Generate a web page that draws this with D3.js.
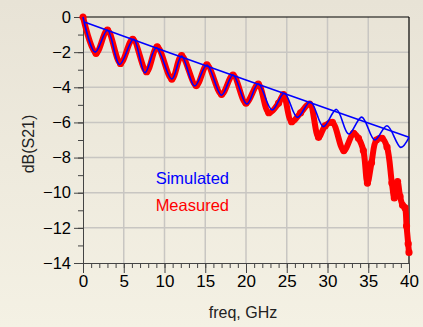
<!DOCTYPE html>
<html>
<head>
<meta charset="UTF-8">
<script src="https://d3js.org/d3.v7.min.js"></script>
<style>
  body { margin: 0; overflow: hidden; }
  svg { display: block; font-family: Arial, "Liberation Sans", sans-serif; }
</style>
</head>
<body>
<svg width="423" height="327"></svg>
<script>
    // frequency ticks (GHz) and dB ticks
    const freqTicks = [0, 5, 10, 15, 20, 25, 30, 35, 40];
    const dbTicks = [0, -2, -4, -6, -8, -10, -12, -14];

    // simulated: smooth loss line
    const simLineFreq = [0.25, 10, 20, 30, 40];
    const simLineDb = [-0.3, -1.93, -3.58, -5.22, -6.85];

    // simulated: rippled response (peaks / troughs)
    const simFreq = [0, 1.5, 3.0, 4.5, 6.2, 7.6, 9.0, 10.9, 12.1, 13.7, 15.2, 17.0, 18.4, 20.1,
        21.5, 23.2, 24.7, 26.3, 27.9, 29.5, 31.1, 32.6, 34.2, 35.8, 37.3, 39.0, 40];
    const simDb = [0, -2.0, -0.75, -2.7, -1.27, -3.17, -1.75, -3.53, -2.22, -3.93, -2.73, -4.45, -3.3, -4.95,
        -3.8, -5.29, -4.34, -5.71, -4.82, -6.24, -5.26, -6.66, -5.7, -7.0, -6.19, -7.42, -6.85];

    // measured
    const measFreq = [0, 1.6, 3.0, 4.6, 6.1, 7.8, 9.1, 10.9, 12.1, 13.9, 15.2, 17.0, 18.4, 20.0,
        21.5, 22.8, 24.0, 24.6, 25.6, 26.7, 27.8, 28.9, 29.7, 30.6, 32.0, 33.2, 33.8, 34.4, 34.9,
        35.4, 36.0, 36.7, 37.3, 37.9, 38.2, 38.6, 38.9, 39.2, 39.5, 39.7, 39.9, 40.0];
    const measDb = [0, -2.07, -0.74, -2.64, -1.27, -3.11, -1.7, -3.53, -2.2, -3.9, -2.73, -4.4, -3.3, -4.9,
        -3.82, -5.45, -4.9, -4.42, -5.96, -5.45, -4.95, -6.85, -6.2, -6.0, -7.6, -6.62, -6.9, -7.6, -9.45,
        -8.3, -7.0, -6.9, -7.4, -9.45, -10.3, -9.37, -10.2, -10.7, -10.85, -11.9, -12.9, -13.4];

    const margin = { top: 17, right: 14, bottom: 64, left: 83 };
    const W = 423, H = 327;
    const width = W - margin.left - margin.right;
    const height = H - margin.top - margin.bottom;

    const svg = d3.select("svg");

    const grad = svg.append("defs").append("linearGradient")
        .attr("id", "bg").attr("x1", 0).attr("y1", 0).attr("x2", 0).attr("y2", 1);
    grad.append("stop").attr("offset", "0%").attr("stop-color", "#e8e3d6");
    grad.append("stop").attr("offset", "100%").attr("stop-color", "#f4f1e4");

    svg.append("rect").attr("width", W).attr("height", H).attr("fill", "url(#bg)");

    const g = svg.append("g").attr("transform", `translate(${margin.left},${margin.top})`);

    const x = d3.scaleLinear().domain([0, 40]).range([0, width]);
    const y = d3.scaleLinear().domain([-14, 0]).range([height, 0]);

    // grid
    g.selectAll(".vgrid").data(freqTicks.slice(1, -1)).enter().append("line")
        .attr("x1", d => x(d)).attr("x2", d => x(d))
        .attr("y1", 0).attr("y2", height)
        .attr("stroke", "#c8c6c2").attr("stroke-width", 1.5);
    g.selectAll(".hgrid").data(dbTicks.slice(1, -1)).enter().append("line")
        .attr("x1", 0).attr("x2", width)
        .attr("y1", d => y(d)).attr("y2", d => y(d))
        .attr("stroke", "#c8c6c2").attr("stroke-width", 1.5);

    // top and right border
    g.append("line").attr("x1", 0).attr("x2", width).attr("y1", 0).attr("y2", 0)
        .attr("stroke", "#000").attr("stroke-width", 1.2);
    g.append("line").attr("x1", width).attr("x2", width).attr("y1", 0).attr("y2", height)
        .attr("stroke", "#000").attr("stroke-width", 1.2);

    // minor ticks
    g.append("g").attr("transform", `translate(0,${height})`)
        .call(d3.axisBottom(x).tickValues(d3.range(0, 41, 1)).tickSize(5).tickFormat(""))
        .call(a => a.selectAll("line, path").attr("stroke", "#444"));
    g.append("g")
        .call(d3.axisLeft(y).tickValues(d3.range(-14, 1, 1)).tickSize(5).tickFormat(""))
        .call(a => a.selectAll("line, path").attr("stroke", "#444"));

    // major ticks with labels
    const xAxis = g.append("g").attr("transform", `translate(0,${height})`)
        .call(d3.axisBottom(x).tickValues(freqTicks).tickSize(10).tickSizeOuter(0).tickPadding(2));
    xAxis.selectAll("line, path").attr("stroke", "#444");
    xAxis.selectAll("text").attr("font-size", "17px").attr("fill", "#000")
        .attr("font-family", "Arial, 'Liberation Sans', sans-serif");

    const yAxis = g.append("g")
        .call(d3.axisLeft(y).tickValues(dbTicks).tickSize(9).tickSizeOuter(0).tickPadding(3));
    yAxis.selectAll("line, path").attr("stroke", "#444");
    yAxis.selectAll("text").attr("font-size", "16.5px").attr("fill", "#000")
        .attr("font-family", "Arial, 'Liberation Sans', sans-serif");

    // axis titles
    svg.append("text")
        .attr("transform", `translate(34,${margin.top + height / 2 + 4}) rotate(-90)`)
        .attr("text-anchor", "middle").attr("font-size", "16px").attr("fill", "#222")
        .text("dB(S21)");
    svg.append("text")
        .attr("x", 243).attr("y", 318)
        .attr("text-anchor", "middle").attr("font-size", "16px").attr("fill", "#222")
        .text("freq, GHz");

    const line = d3.line().x(d => x(d[0])).y(d => y(d[1]));

    // measured (thick red band of open circles)
    const meas = measFreq.map((f, i) => [f, measDb[i]]);
    g.append("path")
        .attr("d", line.curve(d3.curveCatmullRom.alpha(0.5))(meas))
        .attr("fill", "none").attr("stroke", "#ff0000").attr("stroke-width", 6)
        .attr("stroke-linejoin", "round").attr("stroke-linecap", "round");
    g.selectAll(".meas").data(meas).enter().append("circle")
        .attr("cx", d => x(d[0])).attr("cy", d => y(d[1])).attr("r", 3)
        .attr("fill", "none").attr("stroke", "#ff0000").attr("stroke-width", 1.2);

    // simulated
    const sim = simFreq.map((f, i) => [f, simDb[i]]);
    g.append("path")
        .attr("d", line.curve(d3.curveCatmullRom.alpha(0.5))(sim))
        .attr("fill", "none").attr("stroke", "#0000ff").attr("stroke-width", 1.6);

    const simLine = simLineFreq.map((f, i) => [f, simLineDb[i]]);
    g.append("path")
        .attr("d", line.curve(d3.curveLinear)(simLine))
        .attr("fill", "none").attr("stroke", "#0000ff").attr("stroke-width", 1.6);

    // legend
    svg.append("text").attr("x", 229).attr("y", 184).attr("text-anchor", "end")
        .attr("font-size", "16.5px").attr("fill", "#0000ff").text("Simulated");
    svg.append("text").attr("x", 229).attr("y", 211).attr("text-anchor", "end")
        .attr("font-size", "16.5px").attr("fill", "#ff0000").text("Measured");
</script>
</body>
</html>
